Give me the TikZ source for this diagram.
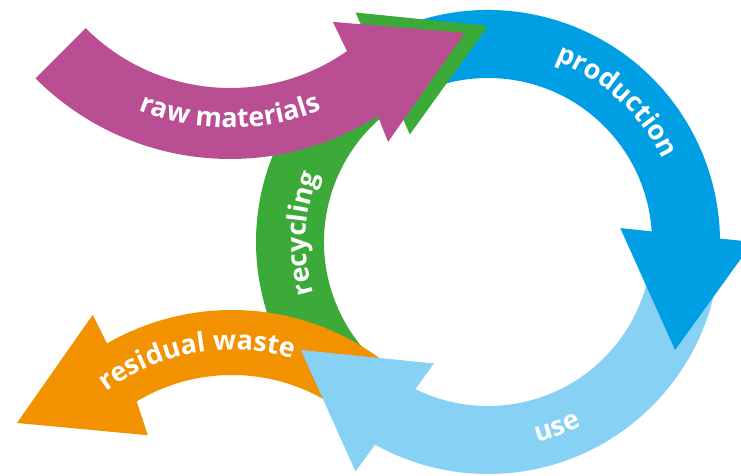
\documentclass[tikz,border=0pt]{standalone}
\usepackage{fontspec}
\newfontfamily\lblfont{Open Sans}
\newcommand\lblstyle{\lblfont\bfseries\fontsize{27}{30}\selectfont}
\usetikzlibrary{decorations.text}
\definecolor{rawpurple}{HTML}{B94E93}
\definecolor{recgreen}{HTML}{3CAA38}
\definecolor{prodblue}{HTML}{009FE3}
\definecolor{useblue}{HTML}{87D1F5}
\definecolor{wasteorange}{HTML}{F39200}

\begin{document}
\begin{tikzpicture}[x=1pt, y=1pt,
    along/.style={decorate, decoration={text along path, text align=center,
        text color=white, text={|\lblstyle|#1}}}]

    \clip (0,0) rectangle (741,476);
    \coordinate (hub) at (488,234);
    \coordinate (rawc) at (230,592);
    \coordinate (wastec) at (232,-84);

    \begin{scope}[shift={(hub)}]
        \foreach \a/\c in {0/prodblue, -120/useblue}
            \fill[\c] (\a+120:232) arc[start angle=\a+120, end angle=\a-5, radius=232]
                -- (\a-5:164) arc[start angle=\a-5, end angle=\a+120, radius=164] -- cycle;
        \fill[recgreen] (215:232) arc[start angle=215, end angle=115, radius=232]
            -- (115:164) arc[start angle=115, end angle=232, radius=164] -- cycle;
    \end{scope}

    \fill[wasteorange, shift={(wastec)}] (147.5:255) -- (119.6:282) -- (120:250)
        arc[start angle=120, end angle=52, radius=250] -- (52:185)
        arc[start angle=52, end angle=121, radius=185] -- (124:150.5) -- cycle;

    \begin{scope}[shift={(hub)}]
        \foreach \a/\c in {0/prodblue, -120/useblue, 120/recgreen}
            \fill[\c] (\a:265) -- (\a-30:216) -- (\a+6:133) -- cycle;
    \end{scope}

    \fill[rawpurple, shift={(rawc)}] (225:204) -- (225:275)
        arc[start angle=225, end angle=302.5, radius=275] -- (301.5:302.5)
        -- (327.6:278) -- (306.7:172) -- (305:204)
        arc[start angle=305, end angle=225, radius=204] -- cycle;

    \path[along=production, shift={(hub)}] (85:193) arc[start angle=85, end angle=10, radius=193];
    \path[along=use, shift={(hub)}] (-105:206) arc[start angle=-105, end angle=-34, radius=206];
    \path[along=recycling, shift={(hub)}] (215:182) arc[start angle=215, end angle=140, radius=182];
    \path[along=raw materials, shift={(rawc)}] (235:244) arc[start angle=235, end angle=305, radius=244];
    \path[along=residual waste, shift={(wastec)}] (137:210) arc[start angle=137, end angle=63, radius=210];

\end{tikzpicture}
\end{document}
